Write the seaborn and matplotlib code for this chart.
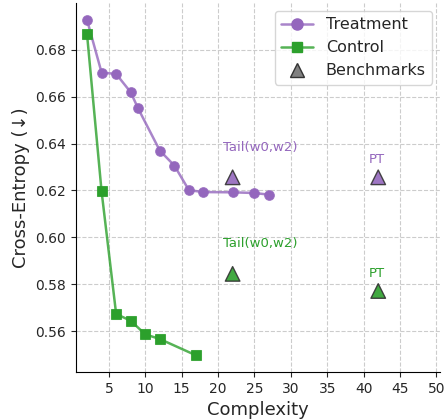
import numpy as np
import pandas as pd
import matplotlib
matplotlib.use("Agg")
import matplotlib.pyplot as plt
import matplotlib.colors as mcolors
import seaborn as sns
from matplotlib.lines import Line2D

treat_x = [2, 4, 6, 8, 9, 12, 14, 16, 18, 22, 25, 27]
treat_y = [0.6928, 0.6703, 0.6697, 0.6619, 0.6551, 0.6370, 0.6306, 0.6201, 0.6193, 0.6192, 0.6189, 0.6182]
ctrl_x = [2, 4, 6, 8, 10, 12, 17]
ctrl_y = [0.6867, 0.6196, 0.5673, 0.5644, 0.5586, 0.5566, 0.5496]
bench_names = ["Tail(w0,w2)", "PT", "Tail(w0,w2)", "PT"]
bench_group = ["Treatment", "Treatment", "Control", "Control"]
bench_x = [22, 42, 22, 42]
bench_y = [0.6256, 0.6256, 0.5844, 0.5771]

PURPLE = "#9467bd"
GREEN = "#2ca02c"
colors = {"Treatment": PURPLE, "Control": GREEN}

sns.set_style("ticks")
plt.rcParams["font.family"] = ["DejaVu Sans"]

fig = plt.figure(figsize=(4.45, 4.19), dpi=100)
ax = fig.add_axes([0.171, 0.112, 0.818, 0.881])

df_t = pd.DataFrame({"x": treat_x, "y": treat_y})
df_c = pd.DataFrame({"x": ctrl_x, "y": ctrl_y})
sns.lineplot(data=df_t, x="x", y="y", ax=ax, color=PURPLE, marker="o", markersize=7,
             markeredgecolor=PURPLE, markerfacecolor=PURPLE, linewidth=1.8, label="Treatment")
sns.lineplot(data=df_c, x="x", y="y", ax=ax, color=GREEN, marker="s", markersize=6.5,
             markeredgecolor=GREEN, markerfacecolor=GREEN, linewidth=1.8, label="Control")
for ln, c in zip(ax.get_lines()[:2], [PURPLE, GREEN]):
    ln.set_color(mcolors.to_rgba(c, 0.8))
    ln.set_markerfacecolor(c)
    ln.set_markeredgecolor(mcolors.to_rgba(c, 0.8))

df_b = pd.DataFrame({"x": bench_x, "y": bench_y, "g": bench_group, "n": bench_names})
sns.scatterplot(data=df_b, x="x", y="y", hue="g", palette=colors, marker="^", s=110,
                edgecolor="#333333", linewidth=1.0, alpha=0.9, ax=ax, legend=False, zorder=5)
for xi, yi, g, n in zip(bench_x, bench_y, bench_group, bench_names):
    off = 17 if n.startswith("Tail") else 8
    ax.annotate(n, (xi, yi), xytext=(-7, off), textcoords="offset points",
                ha="left", va="bottom", color=colors[g], fontsize=9.5)

ax.set_xlim(0.5, 50.5)
ax.set_ylim(0.5425, 0.700)
ax.set_xticks(range(5, 51, 5))
ax.set_yticks(np.arange(0.56, 0.681, 0.02))
ax.yaxis.set_major_formatter(matplotlib.ticker.FormatStrFormatter("%.2f"))
ax.grid(True, linestyle="--", color="#cccccc", linewidth=0.8)
ax.tick_params(labelsize=10)
ax.set_xlabel("Complexity", fontsize=13)
ax.set_ylabel("Cross-Entropy (↓)", fontsize=13)
sns.despine(ax=ax)
for sp in ["left", "bottom"]:
    ax.spines[sp].set_color("black")

handles = [
    Line2D([0], [0], color=mcolors.to_rgba(PURPLE, 0.8), marker="o", markersize=8,
           markerfacecolor=PURPLE, linewidth=1.8, label="Treatment"),
    Line2D([0], [0], color=mcolors.to_rgba(GREEN, 0.8), marker="s", markersize=7,
           markerfacecolor=GREEN, linewidth=1.8, label="Control"),
    Line2D([0], [0], color="gray", marker="^", markersize=10, linestyle="none",
           markeredgecolor="#333333", label="Benchmarks"),
]
ax.legend(handles=handles, loc="upper right", fontsize=11.5, frameon=True)

fig.savefig("out.png", dpi=100)
